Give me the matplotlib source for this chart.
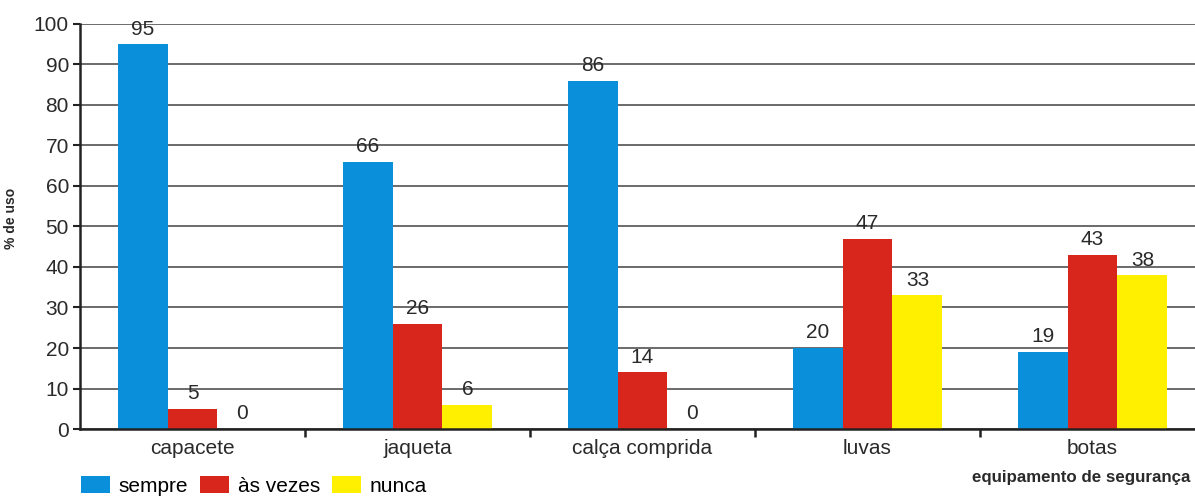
import matplotlib
matplotlib.use("Agg")
import matplotlib.pyplot as plt
import numpy as np

categories = ["capacete", "jaqueta", "calça comprida", "luvas", "botas"]
series_names = ["sempre", "às vezes", "nunca"]
sempre = [95, 66, 86, 20, 19]
as_vezes = [5, 26, 14, 47, 43]
nunca = [0, 6, 0, 33, 38]
colors = ["#0a8fdb", "#d9261c", "#fff000"]

plt.rcParams["font.family"] = ["Liberation Sans", "DejaVu Sans"]

fig = plt.figure(figsize=(11.95, 4.98), dpi=100)
ax = fig.add_axes([80 / 1195, 69 / 498, 1125 / 1195, 405 / 498])

x = np.arange(len(categories))
width = 0.222
series = [sempre, as_vezes, nunca]
for i, (vals, name, col) in enumerate(zip(series, series_names, colors)):
    pos = x + (i - 1) * width
    bars = ax.bar(pos, vals, width=width, color=col, label=name, zorder=2)
    for b, v in zip(bars, vals):
        ax.annotate(f"{v}", (b.get_x() + b.get_width() / 2, v),
                    xytext=(0, 4), textcoords="offset points",
                    ha="center", va="bottom", fontsize=15, color="#2a2a2a")

ax.set_xlim(-0.5, 4.5)
ax.set_ylim(0, 100)
ax.set_yticks(np.arange(0, 101, 10))
ax.yaxis.grid(True, color="#6a6a6a", linewidth=1.4)
ax.set_axisbelow(True)

ax.set_xticks(x)
ax.set_xticklabels(categories, fontsize=15, color="#2a2a2a")
ax.set_xticks(np.arange(0.5, 4.5, 1), minor=True)
ax.tick_params(axis="x", which="major", length=0, pad=7)
ax.tick_params(axis="x", which="minor", length=6, width=1.8, color="#222222")
ax.tick_params(axis="y", length=5, width=1.5, color="#222222", labelsize=15,
               labelcolor="#2a2a2a", pad=3)

for s in ["top", "right"]:
    ax.spines[s].set_visible(False)
for s in ["left", "bottom"]:
    ax.spines[s].set_linewidth(1.8)
    ax.spines[s].set_color("#222222")

ax.set_ylabel("% de uso", fontsize=10, fontweight="bold", color="#2a2a2a")
ax.yaxis.set_label_coords(-0.055, 0.521)

fig.legend(loc="center left", bbox_to_anchor=(81 / 1195, 1 - 486 / 498),
           ncol=3, frameon=False, fontsize=15, handlelength=1.4,
           handleheight=0.87, handletextpad=0.4, columnspacing=0.58,
           borderpad=0, borderaxespad=0)

fig.text(1190 / 1195, 1 - 477 / 498, "equipamento de segurança",
         fontsize=12.2, fontweight="bold", color="#2a2a2a",
         ha="right", va="center")

fig.savefig("out.png", dpi=100)
